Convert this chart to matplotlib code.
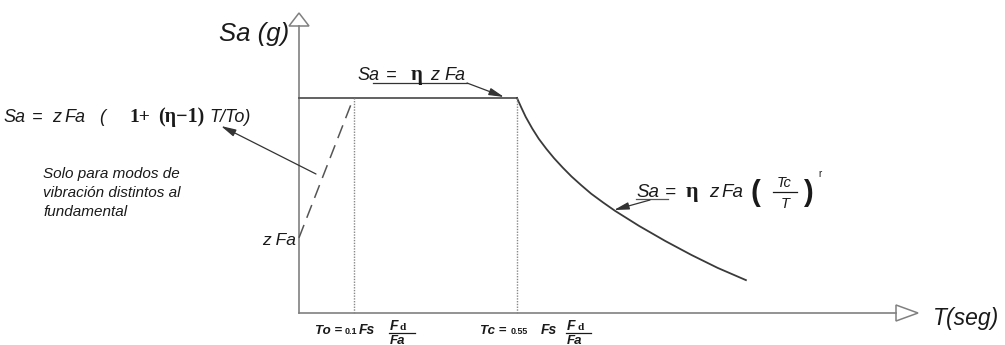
import matplotlib
matplotlib.use("Agg")
import matplotlib.pyplot as plt
from matplotlib.patches import Polygon

# spectrum shape, T in units of Tc, Sa in units of eta*z*Fa
T_ramp = [0.0, 0.25]
Sa_ramp = [0.35, 1.0]
T_plateau = [0.0, 1.0]
Sa_plateau = [1.0, 1.0]
T_curve = [1.0, 1.02, 1.04, 1.07, 1.10, 1.135, 1.17, 1.21, 1.25, 1.295, 1.34,
           1.395, 1.45, 1.56, 1.68, 1.80, 1.92, 2.05]
Sa_curve = [1.0, 0.955, 0.912, 0.858, 0.81, 0.763, 0.72, 0.676, 0.635, 0.594,
            0.555, 0.514, 0.475, 0.405, 0.335, 0.27, 0.21, 0.153]
T0 = 0.25
Tc = 1.0

# pixel layout of the drawing (origin of axes, size of one unit)
X0, Y0, UX, UY = 299, 313, 218, 215
W, H = 1005, 345


def at(xp, yp):
    return (xp - X0) / UX, (Y0 - yp) / UY


SANS = "Liberation Sans"
SERIF = "Liberation Serif"
INK = "#1a1a1a"

fig = plt.figure(figsize=(W / 100, H / 100), dpi=100)
ax = fig.add_axes([0, 0, 1, 1])
ax.set_xlim(-X0 / UX, (W - X0) / UX)
ax.set_ylim((Y0 - H) / UY, Y0 / UY)
ax.axis("off")

# axes with open arrow heads
axc = "#808080"
ax.plot([0, 0], [0, at(0, 26)[1]], color=axc, lw=1.2)
ax.plot([0, at(896, 0)[0]], [0, 0], color=axc, lw=1.2)
ax.add_patch(Polygon([at(299, 13), at(289, 26), at(309, 26)], closed=True,
                     fc="white", ec=axc, lw=1.1))
ax.add_patch(Polygon([at(918, 313), at(896, 305), at(896, 321)], closed=True,
                     fc="white", ec=axc, lw=1.1))

# spectrum
ax.plot(T_plateau, Sa_plateau, color="#555555", lw=1.3)
ax.plot(T_curve, Sa_curve, color="#3a3a3a", lw=1.3)
ax.plot(T_ramp, Sa_ramp, color="#555555", lw=1.1, dashes=[9, 5])
ax.plot([T0, T0], [0, 1.0], color="#888888", lw=1.0, ls=(0, (1, 1)))
ax.plot([Tc, Tc], [0, 1.0], color="#888888", lw=1.0, ls=(0, (1, 1)))

# axis titles
ax.text(*at(289, 41), "Sa (g)", fontsize=18.5, style="italic", family=SANS,
        ha="right", va="baseline", color=INK)
ax.text(*at(933, 325), "T(seg)", fontsize=16.5, style="italic", family=SANS,
        ha="left", va="baseline", color=INK)

arrow = dict(arrowstyle="-|>,head_length=0.9,head_width=0.22", color="#333333",
             lw=0.9, shrinkA=0, shrinkB=0)


def txt(xp, yp, s, size=12, fam=SANS, style="italic", weight="normal"):
    ax.text(*at(xp, yp), s, fontsize=size, family=fam, style=style,
            weight=weight, ha="left", va="baseline", color=INK)


# left formula
by = 122
txt(3, by, "Sa", size=13)
txt(32, by, "=", size=13)
txt(52, by, "z", size=13)
txt(64, by, "Fa", size=13)
txt(99, by, "(", size=13)
txt(129, by, "1+", size=14, fam=SERIF, style="normal", weight="bold")
txt(158, by, "(\u03b7\u22121)", size=14.5, fam=SERIF, style="normal", weight="bold")
txt(209, by, "T/To)", size=13)
ax.annotate("", xy=at(221, 126), xytext=at(316, 174), arrowprops=arrow)

ax.text(*at(43, 193), "Solo para modos de\nvibración distintos al\nfundamental",
        fontsize=11, style="italic", family=SANS, ha="left", va="center",
        linespacing=1.45, color=INK)

txt(262, 245, "z Fa", size=12.5)

# plateau formula
by = 80
txt(357, by, "Sa", size=13)
txt(386, by, "=", size=13)
txt(411, by, "\u03b7", size=15, fam=SERIF, style="normal", weight="bold")
txt(430, by, "z", size=13)
txt(444, by, "Fa", size=13)
ax.plot(*zip(at(373, 83), at(467, 83)), color="#333333", lw=0.9)
ax.annotate("", xy=at(504, 97), xytext=at(467, 83), arrowprops=arrow)

# descending branch formula
by = 197
txt(636, by, "Sa", size=13.5)
txt(665, by, "=", size=13.5)
txt(686, by, "\u03b7", size=16, fam=SERIF, style="normal", weight="bold")
txt(709, by, "z", size=13.5)
txt(721, by, "Fa", size=13.5)
txt(750, 201, "(", size=21, fam=SANS, style="normal", weight="bold")
txt(777, 187, "Tc", size=10.5)
ax.plot(*zip(at(773, 192), at(797, 192)), color=INK, lw=0.9)
txt(781, 208, "T", size=10.5)
txt(803, 201, ")", size=21, fam=SANS, style="normal", weight="bold")
txt(818, 177, "r", size=7, style="normal")
ax.plot(*zip(at(636, 199), at(668, 199)), color="#555555", lw=0.9)
ax.annotate("", xy=at(614, 210), xytext=at(650, 200), arrowprops=arrow)

# period labels under the x axis
by = 334
txt(315, by, "To =", size=9.5, weight="bold")
txt(345, by, "0.1", size=6.5, style="normal", weight="bold")
txt(359, by, "Fs", size=10, weight="bold")
txt(390, 330, "F", size=10, weight="bold")
txt(399, 330, "d", size=8, fam=SERIF, style="normal", weight="bold")
ax.plot(*zip(at(389, 333), at(415, 333)), color=INK, lw=0.9)
txt(390, 344, "Fa", size=9.5, weight="bold")

txt(480, by, "Tc =", size=9.5, weight="bold")
txt(511, by, "0.55", size=6.5, style="normal", weight="bold")
txt(541, by, "Fs", size=10, weight="bold")
txt(567, 330, "F", size=10, weight="bold")
txt(577, 330, "d", size=8, fam=SERIF, style="normal", weight="bold")
ax.plot(*zip(at(566, 333), at(591, 333)), color=INK, lw=0.9)
txt(567, 344, "Fa", size=9.5, weight="bold")

fig.savefig("out.png", dpi=100)
